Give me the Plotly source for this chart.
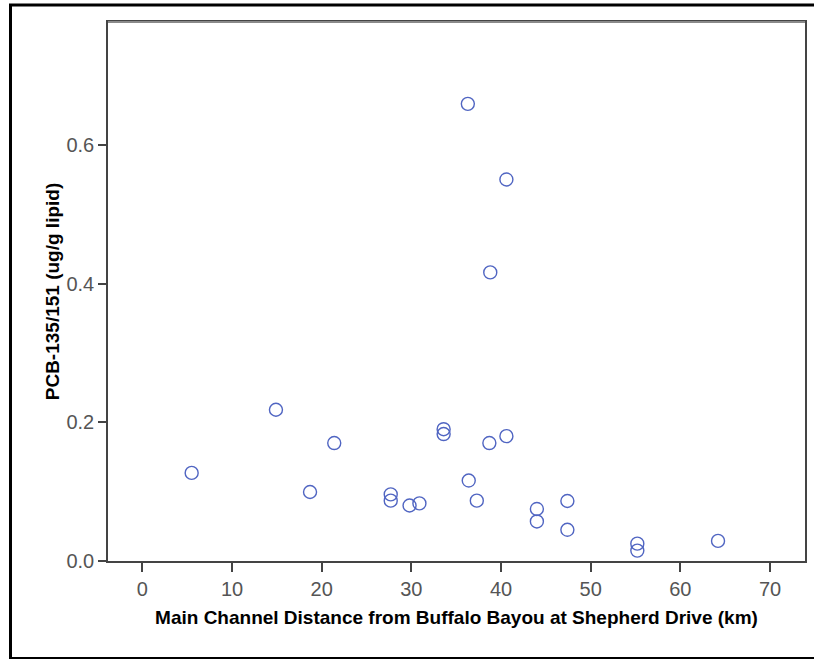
import plotly.graph_objects as go

distance_km = [5.5, 14.9, 18.7, 21.4, 27.7, 27.7, 29.8, 30.9, 33.6, 33.6,
               36.4, 37.3, 38.7, 40.6, 44.0, 44.0, 47.4, 47.4, 55.2, 55.2,
               64.2, 36.3, 40.6, 38.8]
pcb_ug_g = [0.127, 0.218, 0.0995, 0.170, 0.096, 0.087, 0.080, 0.083, 0.190, 0.183,
            0.116, 0.087, 0.170, 0.180, 0.075, 0.057, 0.0865, 0.045, 0.025, 0.015,
            0.029, 0.659, 0.550, 0.416]
x_ticks = [0, 10, 20, 30, 40, 50, 60, 70]
y_ticks = [0.0, 0.2, 0.4, 0.6]

W, H = 814, 660
L, R, T, B = 108, 805, 22, 561

fig = go.Figure(go.Scatter(
    x=distance_km, y=pcb_ug_g, mode="markers",
    marker=dict(symbol="circle-open", size=13, color="#5065c2",
                line=dict(width=1.4, color="#5065c2")),
    showlegend=False, hoverinfo="x+y"))

def px2paper_x(px):
    return (px - L) / (R - L)

def px2paper_y(py):
    return (B - py) / (B - T)

shapes = [
    # outer frame
    dict(type="line", xref="paper", yref="paper", x0=px2paper_x(10.5), x1=px2paper_x(10.5),
         y0=px2paper_y(4), y1=px2paper_y(659), line=dict(color="black", width=3)),
    dict(type="line", xref="paper", yref="paper", x0=px2paper_x(9), x1=px2paper_x(820),
         y0=px2paper_y(5), y1=px2paper_y(5), line=dict(color="black", width=3)),
    dict(type="line", xref="paper", yref="paper", x0=px2paper_x(9), x1=px2paper_x(820),
         y0=px2paper_y(658), y1=px2paper_y(658), line=dict(color="black", width=2)),
    # top frame line of plot (lighter)
    dict(type="line", xref="paper", yref="paper", x0=0, x1=1, y0=1, y1=1,
         line=dict(color="#8a8a8a", width=2)),
]

fig.update_layout(
    width=W, height=H,
    margin=dict(l=L, r=W - R, t=T, b=H - B, autoexpand=False),
    paper_bgcolor="white", plot_bgcolor="white",
    font=dict(family="Liberation Sans, Arial, sans-serif", color="#333333"),
    shapes=shapes,
    xaxis=dict(range=[-3.83, 73.9], tickvals=x_ticks, ticks="outside", ticklen=9,
               tickwidth=1.5, tickcolor="#444444", showline=True, linecolor="#444444",
               linewidth=1.5, mirror=True, showgrid=False, zeroline=False,
               automargin=False,
               tickfont=dict(size=20, color="#555555"),
               title=dict(text="<b>Main Channel Distance from Buffalo Bayou at Shepherd Drive (km)</b>",
                          font=dict(size=19, color="black"), standoff=12)),
    yaxis=dict(range=[0, 0.777], tickvals=y_ticks, tickformat=".1f", ticks="outside",
               ticklen=8, tickwidth=1.5, tickcolor="#444444", showline=True,
               linecolor="#444444", linewidth=1.5, mirror=True, showgrid=False,
               zeroline=False, automargin=False,
               tickfont=dict(size=20, color="#555555"),
               title=dict(text="<b>PCB-135/151 (ug/g lipid)</b>",
                          font=dict(size=19, color="black"), standoff=2)),
)

fig.write_html("out.html", config={"displayModeBar": False},
               post_script="document.body.style.margin='0';document.body.style.padding='0';")
